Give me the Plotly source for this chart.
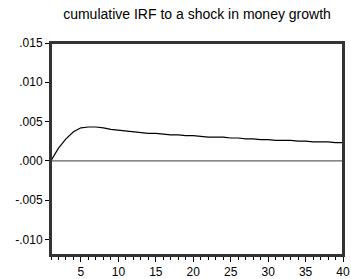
import plotly.graph_objects as go

periods = list(range(1, 41))
irf = [0.0000, 0.0016, 0.0028, 0.0037, 0.0042, 0.0043, 0.0043, 0.0042, 0.0040, 0.0039,
       0.0038, 0.0037, 0.0036, 0.0035, 0.0035, 0.0034, 0.0033, 0.0033, 0.0032, 0.0032,
       0.0031, 0.0030, 0.0030, 0.0030, 0.0029, 0.0029, 0.0028, 0.0028, 0.0027, 0.0027,
       0.0026, 0.0026, 0.0026, 0.0025, 0.0025, 0.0024, 0.0024, 0.0024, 0.0023, 0.0023]
y_ticks = [-0.010, -0.005, 0.000, 0.005, 0.010, 0.015]
y_labels = ["-.010", "-.005", ".000", ".005", ".010", ".015"]
x_ticks = [5, 10, 15, 20, 25, 30, 35, 40]

fig = go.Figure()
fig.add_trace(go.Scatter(x=periods, y=irf, mode="lines",
                         line=dict(color="black", width=1.2), showlegend=False))
fig.add_hline(y=0, line=dict(color="#606060", width=1.3))
fig.add_shape(type="rect", xref="paper", yref="paper", x0=0, x1=1, y0=0, y1=1,
              line=dict(color="#333333", width=2), layer="above")

fig.update_layout(
    width=351, height=279,
    margin=dict(l=51, r=8, t=43, b=24),
    paper_bgcolor="white", plot_bgcolor="white",
    font=dict(family="Liberation Sans, Arial", size=12, color="black"),
    title=dict(text="cumulative IRF to a shock in money growth", x=0.5, xref="paper",
               xanchor="center", y=1 - 14/279, yanchor="middle", font=dict(size=14)),
    xaxis=dict(range=[1, 40], tickvals=x_ticks, ticks="outside", ticklen=5, tickwidth=1,
               tickcolor="black", showgrid=False, zeroline=False, showline=True,
               linecolor="#333333", linewidth=2, mirror=True, automargin=False,
               minor=dict(dtick=1, tick0=1, ticks="outside", ticklen=3, tickcolor="black"),
               tickfont=dict(size=12)),
    yaxis=dict(range=[-0.012, 0.015], tickvals=y_ticks, ticktext=y_labels, ticks="outside",
               ticklen=4, tickwidth=1, tickcolor="black", showgrid=False, zeroline=False,
               showline=True, linecolor="#333333", linewidth=2, mirror=True, automargin=False,
               tickfont=dict(size=12)),
)
fig.write_html("out.html", config={"displayModeBar": False},
               post_script="document.body.style.margin='0';")
